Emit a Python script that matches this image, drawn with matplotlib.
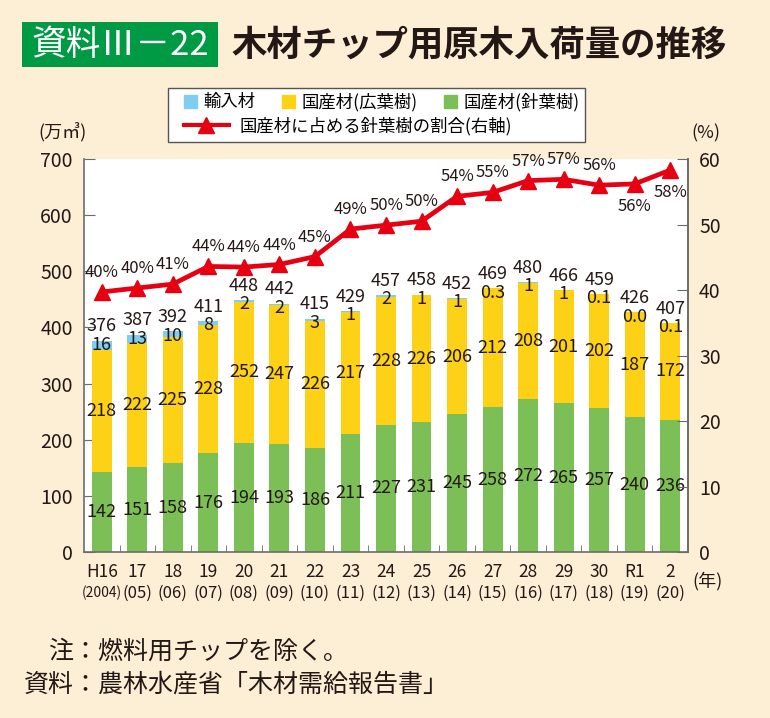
import matplotlib
matplotlib.use("Agg")
import matplotlib.pyplot as plt
from matplotlib.patches import Rectangle, Patch
from matplotlib.lines import Line2D
from matplotlib.transforms import offset_copy
import numpy as np

plt.rcParams["font.family"] = ["Noto Sans CJK JP", "DejaVu Sans"]

# ---- data ----
years_jp = ["H16", "17", "18", "19", "20", "21", "22", "23", "24", "25",
            "26", "27", "28", "29", "30", "R1", "2"]
years_ad = ["(2004)", "(05)", "(06)", "(07)", "(08)", "(09)", "(10)", "(11)", "(12)",
            "(13)", "(14)", "(15)", "(16)", "(17)", "(18)", "(19)", "(20)"]
conifer   = [142, 151, 158, 176, 194, 193, 186, 211, 227, 231, 245, 258, 272, 265, 257, 240, 236]
broadleaf = [218, 222, 225, 228, 252, 247, 226, 217, 228, 226, 206, 212, 208, 201, 202, 187, 172]
imported  = [16, 13, 10, 8, 2, 2, 3, 1, 2, 1, 1, 0.3, 1, 1, 0.1, 0.0, 0.1]
import_labels = ["16", "13", "10", "8", "2", "2", "3", "1", "2", "1", "1", "0.3",
                 "1", "1", "0.1", "0.0", "0.1"]
totals    = [376, 387, 392, 411, 448, 442, 415, 429, 457, 458, 452, 469, 480, 466, 459, 426, 407]
share     = [39.7, 40.3, 40.9, 43.6, 43.5, 43.9, 45.1, 49.3, 49.9, 50.5,
             54.3, 54.9, 56.7, 56.9, 56.0, 56.2, 58.3]
share_labels = ["40%", "40%", "41%", "44%", "44%", "44%", "45%", "49%", "50%", "50%",
                "54%", "55%", "57%", "57%", "56%", "56%", "58%"]

BG     = "#fdefd6"
BLUE   = "#7fcdf0"
YELLOW = "#fcd116"
GREEN  = "#7dbf57"
RED    = "#e60012"
TXT    = "#231815"
SPINE  = "#6b6b6b"

fig = plt.figure(figsize=(7.7, 7.18), dpi=100)
fig.patch.set_facecolor(BG)
ax = fig.add_axes([84 / 770, 1 - 552 / 718, (688 - 84) / 770, (552 - 159) / 718])
ax.set_facecolor("white")

x = np.arange(len(years_jp))
w = 0.56
ax.bar(x, conifer, w, color=GREEN, zorder=2)
ax.bar(x, broadleaf, w, bottom=conifer, color=YELLOW, zorder=2)
dom = np.array(conifer) + np.array(broadleaf)
ax.bar(x, imported, w, bottom=dom, color=BLUE, zorder=2)

fs = 13
for i in x:
    ax.text(i, conifer[i] / 2, str(conifer[i]), ha="center", va="center",
            fontsize=fs, color=TXT, zorder=5)
    ax.text(i, conifer[i] + broadleaf[i] / 2, str(broadleaf[i]), ha="center",
            va="center", fontsize=fs, color=TXT, zorder=5)
    ax.text(i, totals[i] - 7, import_labels[i], ha="center", va="center",
            fontsize=fs, color=TXT, zorder=5)
    ax.text(i, totals[i] + 26, str(totals[i]), ha="center", va="center",
            fontsize=fs, color=TXT, zorder=5)

ax.set_xlim(-0.5, len(x) - 0.5)
ax.set_ylim(0, 700)
ax.set_yticks(range(0, 701, 100))
ax.set_xticks(x)
ax.set_xticklabels(years_jp, fontsize=12.5, color=TXT)
ax.set_xticks(x[:-1] + 0.5, minor=True)
ax.tick_params(axis="x", which="major", length=0, pad=8)
ax.tick_params(axis="x", which="minor", direction="in", length=5, color=SPINE)
ax.tick_params(axis="y", direction="in", length=8, color=SPINE,
               labelsize=14, labelcolor=TXT, pad=8)
for s in ["left", "bottom", "right"]:
    ax.spines[s].set_color(SPINE)
    ax.spines[s].set_linewidth(1.2)
ax.spines["top"].set_visible(False)

# second line of year labels (western year)
tr = offset_copy(ax.get_xaxis_transform(), fig=fig, x=0, y=-41, units="dots")
for i in x:
    ax.text(i, 0, years_ad[i], transform=tr, ha="center", va="center",
            fontsize=10 if i == 0 else 12, color=TXT)

ax2 = ax.twinx()
ax2.set_ylim(0, 60)
ax2.set_yticks(range(0, 61, 10))
ax2.tick_params(axis="y", direction="in", length=8, color=SPINE,
                labelsize=14, labelcolor=TXT, pad=8)
for s in ["left", "bottom", "top"]:
    ax2.spines[s].set_visible(False)
ax2.spines["right"].set_color(SPINE)
ax2.spines["right"].set_linewidth(1.2)
ax2.plot(x, share, color=RED, lw=3.4, marker="^", markersize=12, zorder=4,
         clip_on=False)
for i in x:
    below = i >= len(x) - 2
    dy = -16 if below else 14
    ax2.annotate(share_labels[i], (i, share[i]), xytext=(0, dy),
                 textcoords="offset points", ha="center", va="center",
                 fontsize=12, color=TXT)

# axis unit labels
fig.text(62 / 770, 1 - 133 / 718, "(万㎥)", ha="center", va="center",
         fontsize=13, color=TXT)
fig.text(706 / 770, 1 - 133 / 718, "(%)", ha="center", va="center",
         fontsize=13, color=TXT)
fig.text(708 / 770, 1 - 581 / 718, "(年)", ha="center", va="center",
         fontsize=13, color=TXT)

# title
fig.patches.append(Rectangle((22 / 770, 1 - 67 / 718), 196 / 770, 45 / 718,
                             transform=fig.transFigure, facecolor="#009944",
                             edgecolor="none"))
fig.text(120 / 770, 1 - 45 / 718, "資料Ⅲ－22", ha="center", va="center",
         fontsize=25, color="white")
fig.text(232 / 770, 1 - 45 / 718, "木材チップ用原木入荷量の推移", ha="left",
         va="center", fontsize=25.5, fontweight="bold", color=TXT)

# legend
fig.patches.append(Rectangle((168 / 770, 1 - 142 / 718), 417 / 770, 54 / 718,
                             transform=fig.transFigure, facecolor="white",
                             edgecolor="#555555", lw=1.0, zorder=10))
h1 = [Patch(color=BLUE, label="輸入材"),
      Patch(color=YELLOW, label="国産材(広葉樹)"),
      Patch(color=GREEN, label="国産材(針葉樹)")]
leg1 = fig.legend(handles=h1, ncol=3, loc="center left",
                  bbox_to_anchor=(175 / 770, 1 - 102 / 718), frameon=False,
                  fontsize=12.5, handlelength=0.75, handleheight=0.75,
                  handletextpad=0.4, columnspacing=1.5, borderpad=0)
h2 = [Line2D([], [], color=RED, lw=3, marker="^", markersize=11,
             label="国産材に占める針葉樹の割合(右軸)")]
leg2 = fig.legend(handles=h2, loc="center left",
                  bbox_to_anchor=(175 / 770, 1 - 126 / 718), frameon=False,
                  fontsize=12.5, handlelength=2.6, handletextpad=0.6, borderpad=0)
leg1.set_zorder(11)
leg2.set_zorder(11)

# notes
fig.text(48 / 770, 1 - 652 / 718, "注：燃料用チップを除く。", ha="left",
         va="center", fontsize=18, color=TXT)
fig.text(24 / 770, 1 - 685 / 718, "資料：農林水産省「木材需給報告書」", ha="left",
         va="center", fontsize=18, color=TXT)

fig.savefig("out.png", dpi=100, facecolor=fig.get_facecolor())
